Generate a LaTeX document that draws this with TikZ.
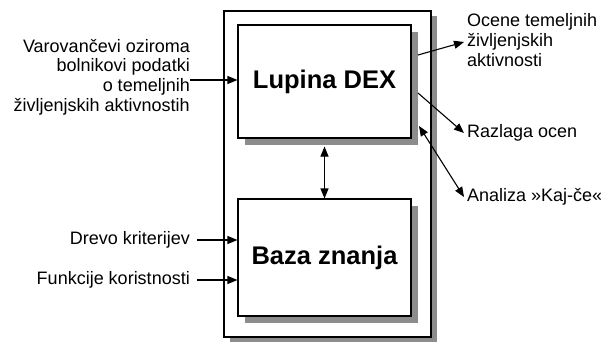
\documentclass[tikz,border=0pt]{standalone}
\usepackage{fontspec}
\setmainfont{Liberation Sans}
\usetikzlibrary{arrows.meta}
\begin{document}
\begin{tikzpicture}[x=1pt,y=-1pt,
  box/.style={draw, line width=1.1pt, fill=white, inner sep=0pt},
  shadowfill/.style={fill=black!45},
  arr/.style={line width=1.1pt, -{Triangle[length=10pt,width=8pt]}},
  darr/.style={line width=1.1pt, {Triangle[length=10pt,width=8pt]}-{Triangle[length=10pt,width=8pt]}},
  lbl/.style={font=\fontsize{18}{19.6}\selectfont, inner sep=0pt},
  ttl/.style={font=\fontsize{25.5}{28}\selectfont\bfseries}]
\useasboundingbox (0,0) rectangle (601,342);
% outer box with shadow
\fill[shadowfill] (230,16) rectangle (437,342);
\node[box, minimum width=207pt, minimum height=326pt] (outer) at (327.5,174) {};
% inner boxes with shadows
\fill[shadowfill] (245,32) rectangle (418,145);
\node[box, ttl, minimum width=173pt, minimum height=113pt] (dex) at (324.5,81.5) {Lupina DEX};
\fill[shadowfill] (245,206) rectangle (418,323);
\node[box, ttl, minimum width=173pt, minimum height=117pt] (baza) at (324.5,257.5) {Baza znanja};
% double arrow between boxes
\draw[darr] ([yshift=-8pt]dex.south) -- (baza.north);
% left labels
\node[lbl, align=right, anchor=east] (vhod) at (190,77) {Varovančevi oziroma\\bolnikovi podatki\\o temeljnih\\življenjskih aktivnostih};
\node[lbl, anchor=east] (drevo) at (190,240) {Drevo kriterijev};
\node[lbl, anchor=east] (funk) at (190,280) {Funkcije koristnosti};
\draw[arr] ([yshift=-3pt]vhod.east) -- ([yshift=-3pt]vhod.east -| dex.west);
\draw[arr] ([xshift=7pt]drevo.east) -- (drevo.east -| baza.west);
\draw[arr] ([xshift=7pt]funk.east) -- (funk.east -| baza.west);
% right labels
\node[lbl, align=left, anchor=west] (ocene) at (467,40) {Ocene temeljnih\\življenjskih\\aktivnosti};
\node[lbl, anchor=west] (razlaga) at (467,133) {Razlaga ocen};
\node[lbl, anchor=west] (analiza) at (467,197) {Analiza »Kaj-če«};
\coordinate (s1) at (418,55);
\coordinate (s2) at (418,93);
\coordinate (s3) at (419,126);
\draw[arr] (s1) -- ([xshift=-3pt,yshift=-2pt]ocene.west);
\draw[arr] (s2) -- ([xshift=-3pt]razlaga.west);
\draw[darr] (s3) -- ([xshift=-3pt]analiza.west);
\end{tikzpicture}
\end{document}
